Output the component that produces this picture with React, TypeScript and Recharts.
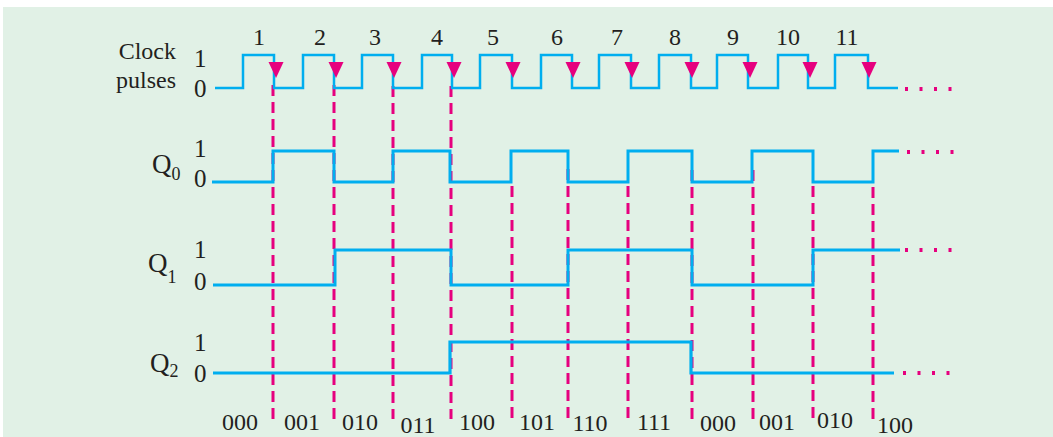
import {
  ComposedChart,
  Line,
  ReferenceDot,
  ReferenceLine,
  XAxis,
  YAxis,
} from "recharts";

// waveform edges (time along the x axis) and the level after each edge
const clockTimes = [
  215, 243, 274, 303, 334, 362, 393, 422, 452, 480, 512, 541, 572, 599, 631, 659,
  691, 717, 748, 778, 808, 835, 868, 898,
];
const clockLevels = [
  0, 1, 0, 1, 0, 1, 0, 1, 0, 1, 0, 1, 0, 1, 0, 1, 0, 1, 0, 1, 0, 1, 0, 0,
];
const q0Times = [212, 273, 334, 393, 450, 511, 568, 628, 692, 752, 813, 873, 899];
const q0Levels = [0, 1, 0, 1, 0, 1, 0, 1, 0, 1, 0, 1, 1];
const q1Times = [213, 335, 451, 568, 692, 813, 900];
const q1Levels = [0, 1, 0, 1, 0, 1, 1];
const q2Times = [213, 450, 691, 894];
const q2Levels = [0, 1, 0, 0];

// falling clock edges that trigger the counter
const triggerX = [273, 334, 393, 451, 512, 568, 628, 692, 753, 813, 873];
const triggerTop = [85, 85, 86, 86, 186, 169, 186, 170, 170, 186, 187];
const arrowX = [276, 336, 394, 454, 513, 573, 632, 692, 750, 810, 869];

const pulseLabels = ["1", "2", "3", "4", "5", "6", "7", "8", "9", "10", "11"];
const pulseLabelX = [259, 320, 375, 437, 493, 557, 617, 675, 733, 788, 847];

const stateLabels = [
  "000", "001", "010", "011", "100", "101", "110", "111", "000", "001", "010", "100",
];
const stateLabelX = [240, 302, 360, 418, 477, 537, 590, 654, 718, 777, 835, 895];
const stateLabelY = [430, 430, 430, 433, 430, 430, 431, 430, 431, 430, 428, 433];

const W = 1053;
const H = 437;
const CYAN = "#00aeef";
const MAGENTA = "#e6007e";
const INK = "#231f20";
const FONT = "Liberation Serif, Times New Roman, serif";

const toSeries = (times: number[], levels: number[]) =>
  times.map((t, i) => ({ t, v: levels[i] }));

// y domain that puts level 1 at pixel `top` and level 0 at pixel `bot`
const rowDomain = (top: number, bot: number): [number, number] => {
  const unit = bot - top;
  const hi = 1 + top / unit;
  return [hi - H / unit, hi];
};

const rows = [
  { id: "clk", top: 55, bot: 88, data: toSeries(clockTimes, clockLevels), width: 2.5 },
  { id: "q0", top: 151, bot: 182, data: toSeries(q0Times, q0Levels), width: 3 },
  { id: "q1", top: 250, bot: 285, data: toSeries(q1Times, q1Levels), width: 3 },
  { id: "q2", top: 342, bot: 373, data: toSeries(q2Times, q2Levels), width: 3.2 },
];

const levelLabels = [
  { text: "1", y: 67 },
  { text: "0", y: 97 },
  { text: "1", y: 157 },
  { text: "0", y: 187 },
  { text: "1", y: 258 },
  { text: "0", y: 290 },
  { text: "1", y: 351 },
  { text: "0", y: 382 },
];

const qLabels = [
  { sub: "0", x: 152, y: 173, dy: 7 },
  { sub: "1", x: 148, y: 272, dy: 11 },
  { sub: "2", x: 150, y: 372, dy: 5 },
];

const dotRows = [
  { y: 89, x0: 905, x1: 953 },
  { y: 152, x0: 907, x1: 955 },
  { y: 250, x0: 905, x1: 953 },
  { y: 373, x0: 903, x1: 951 },
];

const textAt = (
  key: string,
  x: number,
  y: number,
  content: any,
  size: number,
  anchor: "start" | "middle" | "end" = "middle",
) => (
  <ReferenceDot
    key={key}
    x={x}
    y={y}
    yAxisId="px"
    ifOverflow="visible"
    shape={(p: any) => (
      <text
        x={p.cx}
        y={p.cy}
        textAnchor={anchor}
        fontFamily={FONT}
        fontSize={size}
        fill={INK}
      >
        {content}
      </text>
    )}
  />
);

export default function App() {
  return (
    <div style={{ position: "absolute", left: 0, top: 0, width: W, height: H, background: "#fff" }}>
      <div
        style={{
          position: "absolute",
          left: 3,
          top: 7,
          width: W - 3,
          height: H - 7,
          background: "#e1f1e6",
        }}
      />
      <div style={{ position: "absolute", left: 0, top: 0 }}>
        <ComposedChart width={W} height={H} margin={{ top: 0, right: 0, bottom: 0, left: 0 }}>
          <XAxis type="number" dataKey="t" domain={[0, W]} hide allowDataOverflow />
          <YAxis yAxisId="px" type="number" domain={[0, H]} reversed hide allowDataOverflow />
          {rows.map((r) => (
            <YAxis
              key={r.id}
              yAxisId={r.id}
              type="number"
              domain={rowDomain(r.top, r.bot)}
              hide
              allowDataOverflow
            />
          ))}

          {triggerX.map((x, i) => (
            <ReferenceLine
              key={`trig-${i}`}
              yAxisId="px"
              segment={[
                { x, y: triggerTop[i] },
                { x, y: 419 },
              ]}
              stroke={MAGENTA}
              strokeWidth={3}
              strokeDasharray="11 6"
              ifOverflow="visible"
            />
          ))}

          {rows.map((r) => (
            <Line
              key={r.id}
              yAxisId={r.id}
              data={r.data}
              dataKey="v"
              type="stepAfter"
              stroke={CYAN}
              strokeWidth={r.width}
              dot={false}
              activeDot={false}
              isAnimationActive={false}
            />
          ))}

          {arrowX.map((x, i) => (
            <ReferenceDot
              key={`arrow-${i}`}
              x={x}
              y={62}
              yAxisId="px"
              ifOverflow="visible"
              shape={(p: any) => (
                <polygon
                  points={`${p.cx - 7.5},${p.cy} ${p.cx + 7.5},${p.cy} ${p.cx},${p.cy + 16}`}
                  fill={MAGENTA}
                />
              )}
            />
          ))}

          {dotRows.map((d, i) => (
            <ReferenceLine
              key={`dots-${i}`}
              yAxisId="px"
              segment={[
                { x: d.x0, y: d.y },
                { x: d.x1, y: d.y },
              ]}
              stroke={MAGENTA}
              strokeWidth={4}
              strokeDasharray="3 11.5"
              ifOverflow="visible"
            />
          ))}

          {textAt("clock", 176, 59, "Clock", 24, "end")}
          {textAt("pulses", 176, 88, "pulses", 24, "end")}
          {levelLabels.map((l, i) => textAt(`lvl-${i}`, 194, l.y, l.text, 25, "start"))}
          {qLabels.map((q, i) =>
            textAt(
              `q-${i}`,
              q.x,
              q.y,
              <>
                <tspan>Q</tspan>
                <tspan fontSize={18} dy={q.dy}>
                  {q.sub}
                </tspan>
              </>,
              27,
              "start",
            ),
          )}
          {pulseLabels.map((s, i) => textAt(`pl-${i}`, pulseLabelX[i], 45, s, 24))}
          {stateLabels.map((s, i) => textAt(`st-${i}`, stateLabelX[i], stateLabelY[i], s, 24))}
        </ComposedChart>
      </div>
    </div>
  );
}
